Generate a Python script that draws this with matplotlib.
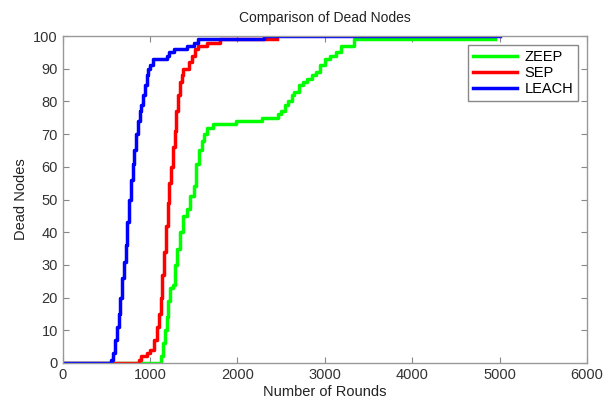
import matplotlib
matplotlib.use('Agg')
import matplotlib.pyplot as plt

plt.rcParams['font.family'] = ['Liberation Sans', 'DejaVu Sans']

# LEACH (blue)
leach_x = [0, 550, 575, 600, 620, 640, 660, 680, 700, 720, 740, 760, 780, 800, 820, 840, 860,
           880, 900, 920, 940, 960, 980, 1000, 1030, 1190, 1220, 1270, 1420, 1500, 1550, 2300, 5000]
leach_y = [0, 1, 3, 7, 11, 15, 20, 26, 31, 36, 43, 50, 56, 61, 65, 70, 74,
           77, 79, 82, 85, 88, 90, 91, 93, 94, 95, 96, 97, 98, 99, 100, 100]

# SEP (red)
sep_x = [0, 870, 900, 960, 1000, 1040, 1075, 1100, 1120, 1140, 1160, 1180, 1200, 1220, 1240,
         1260, 1280, 1300, 1320, 1340, 1360, 1380, 1440, 1480, 1510, 1550, 1650, 1800, 2450]
sep_y = [0, 1, 2, 3, 4, 7, 11, 15, 20, 27, 34, 42, 49, 55, 60,
         66, 71, 77, 82, 86, 88, 90, 92, 94, 96, 97, 98, 99, 99]

# ZEEP (green)
zeep_x = [0, 1120, 1150, 1170, 1190, 1210, 1230, 1260, 1290, 1310, 1340, 1380, 1420, 1460, 1500,
          1530, 1560, 1590, 1620, 1650, 1720, 1980, 2280, 2460, 2500, 2540, 2580, 2620, 2650,
          2700, 2750, 2800, 2850, 2900, 2950, 3000, 3060, 3130, 3190, 3330, 4950]
zeep_y = [0, 2, 6, 10, 14, 19, 23, 24, 30, 35, 40, 45, 47, 51, 54,
          61, 65, 68, 70, 72, 73, 74, 75, 76, 77, 79, 80, 82, 83,
          85, 86, 87, 88, 89, 91, 93, 94, 95, 97, 99, 99]

x_ticks = [0, 1000, 2000, 3000, 4000, 5000, 6000]
y_ticks = list(range(0, 101, 10))

fig = plt.figure(figsize=(6.12, 4.0), dpi=100)
ax = fig.add_axes([0.1025, 0.0925, 0.8565, 0.8175])

lw = 2.5
ax.plot(zeep_x, zeep_y, color=(0, 1, 0), lw=lw, drawstyle='steps-post', label='ZEEP')
ax.plot(sep_x, sep_y, color=(1, 0, 0), lw=lw, drawstyle='steps-post', label='SEP')
ax.plot(leach_x, leach_y, color=(0, 0, 1), lw=lw, drawstyle='steps-post', label='LEACH')

ax.set_xlim(0, 6000)
ax.set_ylim(0, 100)
ax.set_xticks(x_ticks)
ax.set_yticks(y_ticks)
ax.tick_params(direction='in', top=True, right=True, labelsize=10.5, colors='#333333',
               length=4, width=0.8)
for sp in ax.spines.values():
    sp.set_color('#999999')
    sp.set_linewidth(1.0)
ax.tick_params(axis='both', which='both', color='#888888')

ax.set_title('Comparison of Dead Nodes', fontsize=10, color='#222222', pad=10)
ax.set_xlabel('Number of Rounds', fontsize=10.5, color='#222222', labelpad=2)
ax.set_ylabel('Dead Nodes', fontsize=10.5, color='#222222', labelpad=4)

leg = ax.legend(loc='upper right', fontsize=10.5, fancybox=False, framealpha=1,
                handlelength=3.0, borderaxespad=0.6, labelspacing=0.15,
                handletextpad=0.5, borderpad=0.35)
leg.get_frame().set_edgecolor('#888888')
leg.get_frame().set_linewidth(1.0)

fig.savefig('out.png', dpi=100)
